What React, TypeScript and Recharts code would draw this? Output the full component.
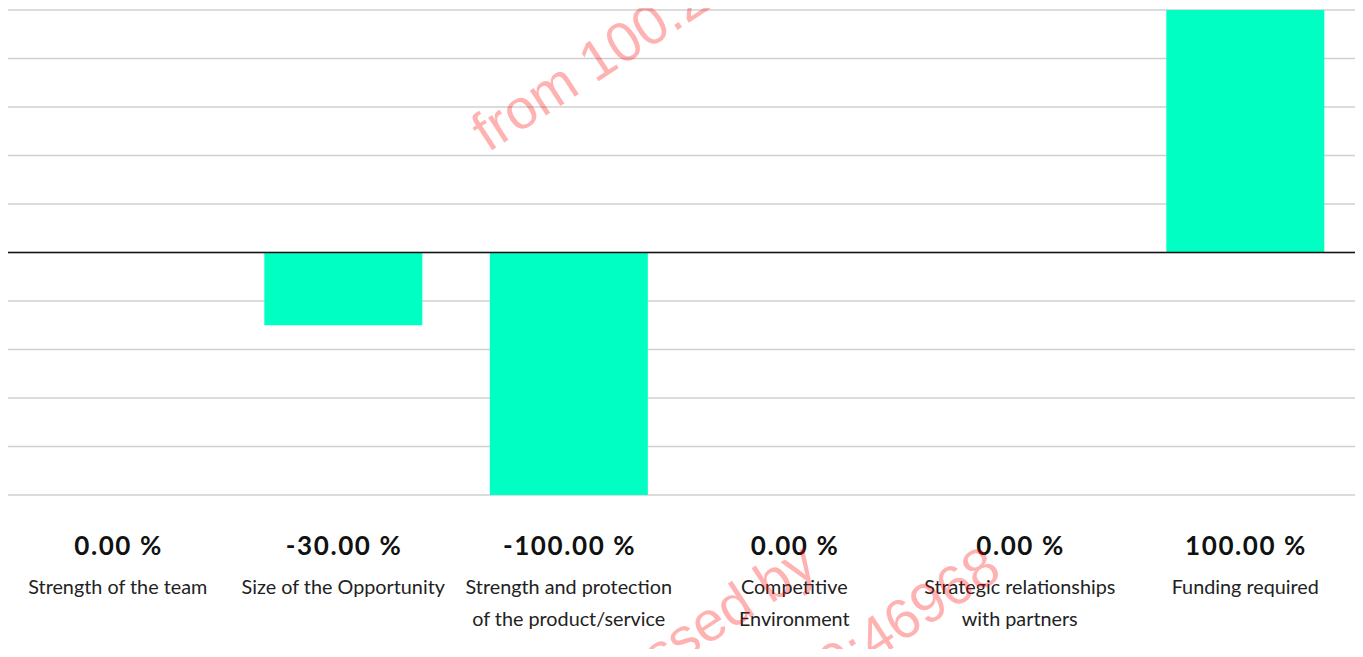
import React from "react";
import { BarChart, Bar, XAxis, YAxis, CartesianGrid, ReferenceLine } from "recharts";

const categories = [
  "Strength of the team",
  "Size of the Opportunity",
  "Strength and protection\nof the product/service",
  "Competitive\nEnvironment",
  "Strategic relationships\nwith partners",
  "Funding required",
];
const values = [0, -30, -100, 0, 0, 100];
const yTicks = [-100, -80, -60, -40, -20, 0, 20, 40, 60, 80, 100];

const data = categories.map((name, i) => ({ name, value: values[i] }));

const FONT = "Lato, 'Open Sans', sans-serif";

const Tick = (props: any) => {
  const { x, y, payload, index } = props;
  const lines = String(payload.value).split("\n");
  const v = values[index] ?? data.find((d) => d.name === payload.value)?.value ?? 0;
  return (
    <g>
      <text
        x={x + 0.8}
        y={y + 60}
        textAnchor="middle"
        fontFamily={FONT}
        fontWeight={700}
        fontSize={26}
        letterSpacing={1.6}
        fill="#111"
      >
        {`${v.toFixed(2)} %`}
      </text>
      {lines.map((l, i) => (
        <text key={i} x={x} y={y + 99 + i * 32} textAnchor="middle" fontFamily={FONT} fontSize={19.8} fill="#222">
          {l}
        </text>
      ))}
    </g>
  );
};

export default function App() {
  return (
    <div style={{ position: "relative", width: 1363, height: 657, margin: -8, overflow: "hidden", background: "#fff" }}>
      <BarChart
        width={1363}
        height={657}
        data={data}
        margin={{ top: 10, right: 5, left: 5, bottom: 0 }}
        barCategoryGap="15%"
      >
        <CartesianGrid vertical={false} stroke="#d0d0d0" strokeWidth={1.4} />
        <XAxis
          dataKey="name"
          height={162}
          axisLine={false}
          tickLine={false}
          tickSize={0}
          tickMargin={0}
          interval={0}
          tick={<Tick />}
        />
        <YAxis hide domain={[-100, 100]} ticks={yTicks} type="number" />
        <Bar dataKey="value" fill="#00ffc2" isAnimationActive={false} />
        <ReferenceLine y={0} stroke="#111" strokeWidth={1.6} />
      </BarChart>
      <div style={{ position: "absolute", left: 0, top: 655, width: 1363, height: 2, background: "#e0e0e0" }} />
      <svg
        width={1363}
        height={657}
        style={{ position: "absolute", left: 0, top: 0, pointerEvents: "none" }}
      >
        <g fontFamily="'Liberation Sans', Arial, sans-serif" fontSize={56} fill="rgba(255,0,0,0.3)">
          <text x={488} y={153} transform="rotate(-33 488 153)">from 100.24</text>
          <text x={820} y={572} textAnchor="end" transform="rotate(-33 820 572)">Accessed by</text>
          <text x={1004} y={576} textAnchor="end" transform="rotate(-33 1004 576)">9:46968</text>
        </g>
      </svg>
    </div>
  );
}
